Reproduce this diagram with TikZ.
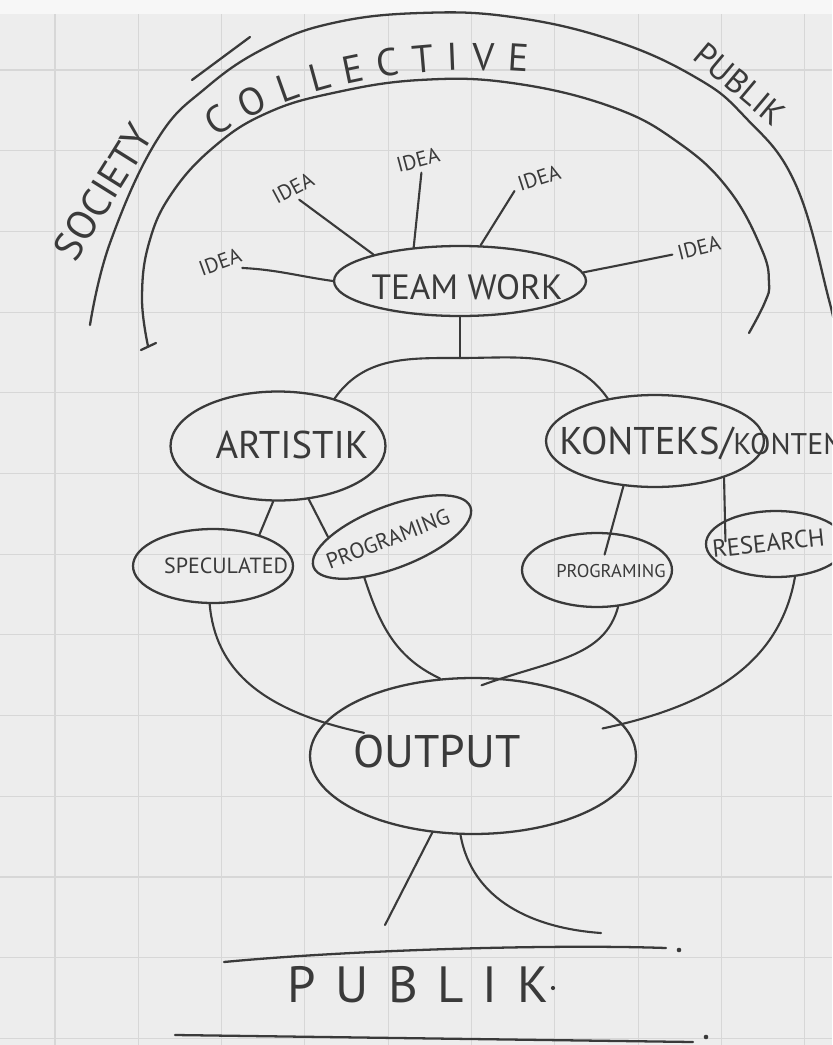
\documentclass[tikz,border=0pt]{standalone}
\usepackage{fontspec}
\setmainfont{PT Sans}
\usetikzlibrary{shapes.geometric,positioning,calc,decorations.text}

\definecolor{paper}{HTML}{EDEDED}
\definecolor{gridc}{HTML}{D7D7D7}
\definecolor{inkc}{HTML}{3A3A3A}
\newcommand{\handsz}[1]{\fontsize{#1}{#1}\selectfont}

\tikzset{
  ink/.style={draw=inkc, line width=1.3pt, line cap=round},
  wire/.style={ink, line width=1.2pt},
  oval/.style 2 args={ellipse, ink, minimum width=#1, minimum height=#2, inner sep=0pt},
  hand/.style={text=inkc, inner sep=0pt},
  idea/.style={hand, inner sep=3pt, font=\handsz{12pt}},
}

\begin{document}
\begin{tikzpicture}[x=0.02cm, y=-0.02cm]
% paper
\fill[paper] (0,0) rectangle (832,1045);
\useasboundingbox (0,0) rectangle (832,1045);
\clip (0,0) rectangle (832,1045);
\fill[white!55!paper] (0,0) rectangle (832,14);
\foreach \gx in {55,138.3,...,830}
  \draw[gridc, line width=0.6pt] (\gx,14) -- (\gx,1045);
\foreach \gy in {70,150.7,...,1045}
  \draw[gridc, line width=0.6pt] (0,\gy) -- (832,\gy);

% outer and inner arcs
\draw[ink] plot[smooth, tension=0.7] coordinates {(90,325) (110,243) (157,140) (207,87) (267,47) (333,23) (420,13) (512,17) (612,40) (695,77) (745,117) (795,183) (829,300) (838,345)};
\draw[ink] (192,80) -- (250,37);
\draw[ink] plot[smooth, tension=0.7] coordinates {(148,346) (142,298) (149,243) (172,193) (215,146) (267,113) (333,93) (420,80) (512,83) (612,107) (679,143) (729,190) (762,250) (769,283) (765,302) (749,333)};
\draw[ink] (141,350) -- (156,343);

\node[hand, rotate=58, font=\handsz{23pt}] (society) at (103,192) {SOCIETY};
\node[hand, rotate=-40, font=\handsz{19pt}] (publiktop) at (740,84) {PUBLIK};
\path[decorate, decoration={text along path, text color=inkc,
    text={|\handsz{22pt}|COLLECTIVE}, text align={fit to path}}]
  (216,138) .. controls (280,92) and (400,62) .. (528,72);

% team work and ideas
\node[oval={5.04cm}{1.4cm}] (team) at (460,281) {};
\node[hand, font=\handsz{20pt}] (teamtxt) at (467,287) {TEAM WORK};
\node[idea, rotate=20] (idea1) at (220,262) {IDEA};
\node[idea, rotate=28] (idea2) at (293,188) {IDEA};
\node[idea, rotate=15] (idea3) at (418,160) {IDEA};
\node[idea, rotate=18] (idea4) at (539,178) {IDEA};
\node[idea, rotate=14] (idea5) at (699,248) {IDEA};

\draw[wire] (idea1.-35) to[out=-3, in=172] (team.west);
\draw[wire] (idea2.south) -- (team.163);
\draw[wire] (idea3.south) -- (team.144);
\draw[wire] (idea4.190) -- (team.60);
\draw[wire] (idea5.west) -- (team.4);

% second level
\node[oval={4.3cm}{2.18cm}] (art) at (278,446) {};
\node[hand, font=\handsz{22pt}] (arttxt) at (292,445) {ARTISTIK};
\node[oval={4.36cm}{1.84cm}] (kon) at (655,441) {};
\node[hand, font=\handsz{22pt}, anchor=west] (kontxt) at (559,443) {KONTEKS/{\handsz{17pt}KONTEN}};

\coordinate (fork) at (460,358);
\draw[wire] (team.south) -- (fork);
\draw[wire] (art.40) to[out=55, in=180] (fork) to[out=0, in=125] (kon.138);

% third level
\node[oval={3.2cm}{1.48cm}] (spec) at (213,566) {};
\node[hand, font=\handsz{12.5pt}] (spectxt) at (226,566) {SPECULATED};
\node[oval={3.36cm}{1.24cm}, rotate=21] (progL) at (392,537) {};
\node[hand, font=\handsz{12.5pt}, rotate=21] (progLtxt) at (388,539) {PROGRAMING};
\node[oval={3.0cm}{1.48cm}] (progR) at (597,570) {};
\node[hand, font=\handsz{10.5pt}] (progRtxt) at (611,571) {PROGRAMING};
\node[oval={2.8cm}{1.32cm}] (res) at (776,544) {};
\node[hand, font=\handsz{14pt}, anchor=west, rotate=6] (restxt) at (712,549) {RESEARCH};

\draw[wire] (art.-95) -- (spec.34);
\draw[wire] (art.-60) -- (progL.159);
\draw[wire, shorten >=-13pt] (kon.-125) -- (progR.70);
\draw[wire, shorten >=-12pt] (kon.-28) -- (res.155);

% output
\node[oval={6.52cm}{3.12cm}] (output) at (473,756) {};
\node[hand, font=\handsz{26pt}] (outtxt) at (437,752) {OUTPUT};

\draw[wire, shorten >=-24pt] (spec.-95) to[out=-85, in=168] (output.168);
\draw[wire] (progL.-145) to[out=-72, in=155] (output.113);
\draw[wire, shorten >=-12pt] (progR.-60) to[out=-105, in=20] (output.70);
\draw[wire, shorten >=-12pt] (res.-60) to[out=-100, in=12] (output.12);

% to the public
\coordinate (outl) at (385,925);
\coordinate (outr) at (601,933);
\draw[wire] (output.-118) -- (outl);
\draw[wire] (output.-99) to[out=-80, in=176] (outr);

\coordinate (lineA) at (224,962);
\coordinate (lineB) at (666,948);
\draw[ink] (lineA) .. controls (350,950) and (550,944) .. (lineB);
\fill[inkc] (679,950) circle (1.3pt);
\node[hand, font=\handsz{29pt}\addfontfeatures{LetterSpace=38}] (publik) at (418,985) {PUBLIK};
\fill[inkc] (553,988) circle (1.2pt);
\coordinate (lineC) at (175,1035);
\coordinate (lineD) at (693,1042);
\draw[ink] (lineC) -- (lineD);
\fill[inkc] (706,1037) circle (1.3pt);
\end{tikzpicture}
\end{document}
